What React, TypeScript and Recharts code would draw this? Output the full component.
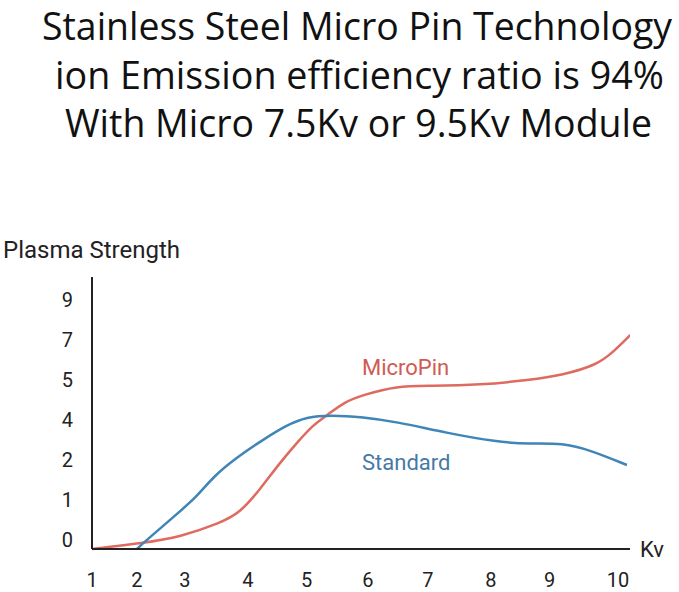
import { LineChart, Line, XAxis, YAxis } from "recharts";

// Axis tick labels and where they sit along each axis (axis units)
const kvTicks = [1, 2, 3, 4, 5, 6, 7, 8, 9, 10];
const kvTickPos = [0, 0.75, 1.55, 2.6, 3.58, 4.6, 5.6, 6.65, 7.63, 8.77];
const strengthTicks = [0, 1, 2, 4, 5, 7, 9];
const strengthTickPos = [0, 1, 2, 3, 4, 5, 6];

// MicroPin curve
const microPinKv = [1, 2.13, 2.9, 3.56, 3.87, 4.2, 4.54, 4.83, 5.1, 5.34, 5.62, 5.92, 6.48, 7.03, 7.83, 8.66, 9.19, 9.69, 9.93, 10.18];
const microPinStrength = [0, 0.15, 0.3, 0.65, 0.9, 1.48, 2.3, 3.3, 4.1, 4.35, 4.68, 4.85, 5.15, 5.15, 5.2, 5.45, 5.7, 6.2, 6.85, 7.7];

// Standard curve
const standardKv = [2, 2.13, 2.69, 3.19, 3.44, 3.83, 4.25, 4.66, 5.0, 5.38, 5.92, 6.48, 7.3, 8.1, 8.66, 9.19, 9.59, 10.13];
const standardStrength = [0, 0.15, 0.73, 1.3, 1.8, 2.6, 3.45, 4.1, 4.3, 4.35, 4.3, 4.18, 3.8, 3.35, 3.25, 3.3, 2.95, 2.2];

const titleLines = [
  "Stainless Steel Micro Pin Technology",
  "ion Emission efficiency ratio is 94%",
  "With Micro 7.5Kv or 9.5Kv Module",
];
const titleWidths = [630, 609, 587];
const titleCenters = [357, 359.5, 358.5];

const RED = "#df6a5f";
const BLUE = "#3f85b7";
const INK = "#222";
const FONT = "Roboto, sans-serif";

// piecewise-linear lookup from labelled stops to axis position
function toPos(v: number, stops: number[], pos: number[]) {
  let i = 0;
  while (i < stops.length - 2 && v > stops[i + 1]) i++;
  const t = (v - stops[i]) / (stops[i + 1] - stops[i]);
  return pos[i] + t * (pos[i + 1] - pos[i]);
}

const toSeries = (kv: number[], s: number[]) =>
  kv.map((k, i) => ({
    x: toPos(k, kvTicks, kvTickPos),
    y: toPos(s[i], strengthTicks, strengthTickPos),
  }));

const microPinData = toSeries(microPinKv, microPinStrength);
const standardData = toSeries(standardKv, standardStrength);

const XTick = ({ x, y, payload }: any) => {
  const idx = kvTickPos.indexOf(payload.value);
  return (
    <text x={x} y={y + 31} textAnchor="middle" dominantBaseline="central" fontFamily={FONT} fontSize={20} fill={INK}>
      {kvTicks[idx]}
    </text>
  );
};

const YTick = ({ x, y, payload }: any) => {
  const idx = strengthTickPos.indexOf(payload.value);
  return (
    <text x={x - 19} y={y - 9} textAnchor="end" dominantBaseline="central" fontFamily={FONT} fontSize={20} fill={INK}>
      {strengthTicks[idx]}
    </text>
  );
};

export default function App() {
  return (
    <div style={{ position: "absolute", left: 0, top: 0, width: 679, height: 592, background: "#fff" }}>
      <LineChart width={679} height={592} margin={{ top: 277, right: 49, bottom: 13, left: 0 }}>
        <XAxis
          type="number"
          dataKey="x"
          domain={[0, 8.97]}
          ticks={kvTickPos}
          tick={<XTick />}
          tickLine={false}
          tickSize={0}
          tickMargin={0}
          height={30}
          axisLine={{ stroke: INK, strokeWidth: 2 }}
          allowDataOverflow
        />
        <YAxis
          type="number"
          dataKey="y"
          domain={[0, 6.8]}
          ticks={strengthTickPos}
          tick={<YTick />}
          tickLine={false}
          tickSize={0}
          tickMargin={0}
          width={92}
          axisLine={{ stroke: INK, strokeWidth: 2 }}
        />
        <Line data={microPinData} dataKey="y" type="basis" stroke={RED} strokeWidth={2.5} dot={false} isAnimationActive={false} />
        <Line data={standardData} dataKey="y" type="basis" stroke={BLUE} strokeWidth={2.5} dot={false} isAnimationActive={false} />
      </LineChart>

      <svg width={679} height={592} style={{ position: "absolute", left: 0, top: 0, pointerEvents: "none" }}>
        {titleLines.map((t, i) => (
          <text
            key={t}
            x={titleCenters[i]}
            y={40 + i * 48.5}
            textAnchor="middle"
            textLength={titleWidths[i]}
            lengthAdjust="spacingAndGlyphs"
            fontFamily="'Open Sans', sans-serif"
            fontSize={39}
            fill="#111"
          >
            {t}
          </text>
        ))}
        <text x={3} y={258} fontFamily={FONT} fontSize={24} fill={INK}>Plasma Strength</text>
        <text x={640} y={549} dominantBaseline="central" fontFamily={FONT} fontSize={22} fill={INK}>Kv</text>
        <text x={362} y={367} dominantBaseline="central" fontFamily={FONT} fontSize={22} fill="#cf5b54">MicroPin</text>
        <text x={362} y={462} dominantBaseline="central" fontFamily={FONT} fontSize={22} fill="#4679a6">Standard</text>
      </svg>
    </div>
  );
}
